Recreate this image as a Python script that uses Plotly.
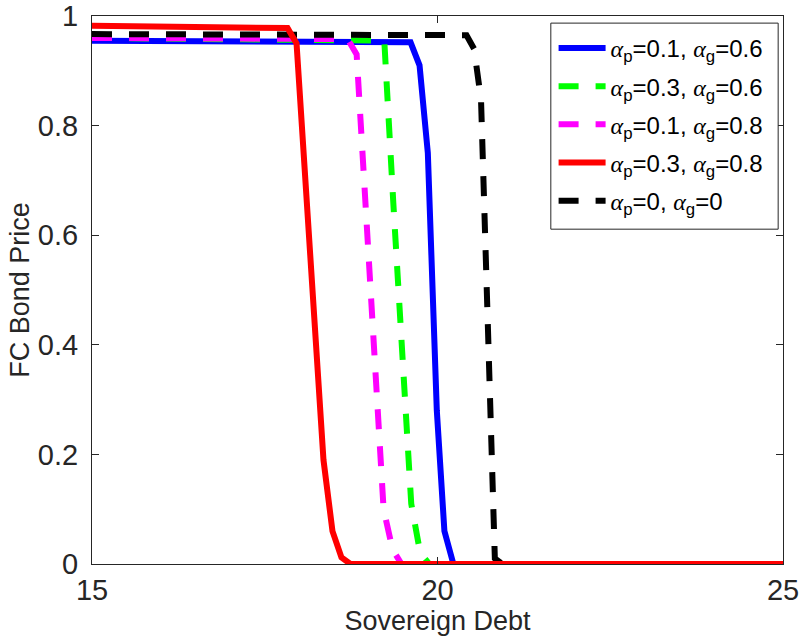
import plotly.graph_objects as go

# Data
blue_x = [15, 19.61, 19.74, 19.86, 19.99, 20.10, 20.23, 25]
blue_y = [0.955, 0.952, 0.91, 0.75, 0.28, 0.06, 0.0, 0.0]

green_x = [15, 19.23, 19.36, 19.49, 19.62, 19.75, 19.88, 25]
green_y = [0.96, 0.955, 0.66, 0.39, 0.11, 0.02, 0.0, 0.0]

magenta_x = [15, 18.70, 18.83, 18.96, 19.09, 19.22, 19.35, 19.48, 25]
magenta_y = [0.96, 0.958, 0.93, 0.65, 0.376, 0.10, 0.026, 0.0, 0.0]

red_x = [15, 17.83, 17.96, 18.09, 18.22, 18.35, 18.48, 18.61, 18.74, 25]
red_y = [0.982, 0.978, 0.95, 0.70, 0.45, 0.19, 0.06, 0.012, 0.0, 0.0]

black_x = [15, 20.42, 20.53, 20.63, 20.73, 20.83, 20.94, 25]
black_y = [0.967, 0.965, 0.94, 0.847, 0.43, 0.01, 0.0, 0.0]

A = "<span style=\"font-family:'Liberation Serif';font-style:italic\">α</span>"
names = [
    A + "<sub>p</sub>=0.1, " + A + "<sub>g</sub>=0.6",
    A + "<sub>p</sub>=0.3, " + A + "<sub>g</sub>=0.6",
    A + "<sub>p</sub>=0.1, " + A + "<sub>g</sub>=0.8",
    A + "<sub>p</sub>=0.3, " + A + "<sub>g</sub>=0.8",
    A + "<sub>p</sub>=0, " + A + "<sub>g</sub>=0",
]

x_ticks = [15, 20, 25]
y_ticks = [0, 0.2, 0.4, 0.6, 0.8, 1]
y_ticklabels = ["0", "0.2", "0.4", "0.6", "0.8", "1"]

# (x, y, colour, dash, legend rank); drawing order puts red on top of black at zero
series = [
    (blue_x, blue_y, "#0000FF", "solid", 1, names[0]),
    (green_x, green_y, "#00FF00", "20px,17px", 2, names[1]),
    (magenta_x, magenta_y, "#FF00FF", "20px,17px", 3, names[2]),
    (black_x, black_y, "#000000", "20px,17px", 5, names[4]),
    (red_x, red_y, "#FF0000", "solid", 4, names[3]),
]

fig = go.Figure()
for xs, ys, col, dash, rank, nm in series:
    fig.add_trace(go.Scatter(x=xs, y=ys, mode="lines", name=nm, legendrank=rank,
                             legendgroup=str(rank),
                             line=dict(color=col, width=6, dash=dash)))

FONT = "Liberation Sans, Arial, sans-serif"
axis_common = dict(
    showgrid=False, zeroline=False, showline=True, linecolor="#262626",
    linewidth=1, mirror="ticks", ticks="inside", ticklen=7, tickcolor="#262626",
    automargin=False, ticklabeloverflow="allow",
    tickfont=dict(family=FONT, size=29, color="#262626"),
)

# legend frame (drawn as a box behind the legend entries)
fig.add_shape(type="rect", xref="paper", yref="paper",
              x0=0.664, x1=0.993, y0=0.611, y1=0.987,
              line=dict(color="#262626", width=1), fillcolor="white", layer="above")

fig.update_layout(
    width=799, height=638,
    margin=dict(l=92, r=16, t=16, b=74),
    paper_bgcolor="white", plot_bgcolor="white",
    font=dict(family=FONT, color="#262626"),
    xaxis=dict(range=[15, 25], tickvals=x_ticks, ticklabelstandoff=0,
               title=dict(text="Sovereign Debt", font=dict(size=27, color="#262626"), standoff=3),
               **axis_common),
    yaxis=dict(range=[0, 1], tickvals=y_ticks, ticktext=y_ticklabels, ticklabelstandoff=7,
               title=dict(text="FC Bond Price", font=dict(size=27, color="#262626"), standoff=0),
               **axis_common),
    legend=dict(x=0.668, y=0.982, xanchor="left", yanchor="top",
                bgcolor="rgba(0,0,0,0)", borderwidth=0,
                font=dict(family=FONT, size=24, color="black"),
                tracegroupgap=4, itemwidth=47),
    showlegend=True,
)

fig.write_html("out.html", post_script="document.body.style.margin='0';",
               config={"displayModeBar": False})
